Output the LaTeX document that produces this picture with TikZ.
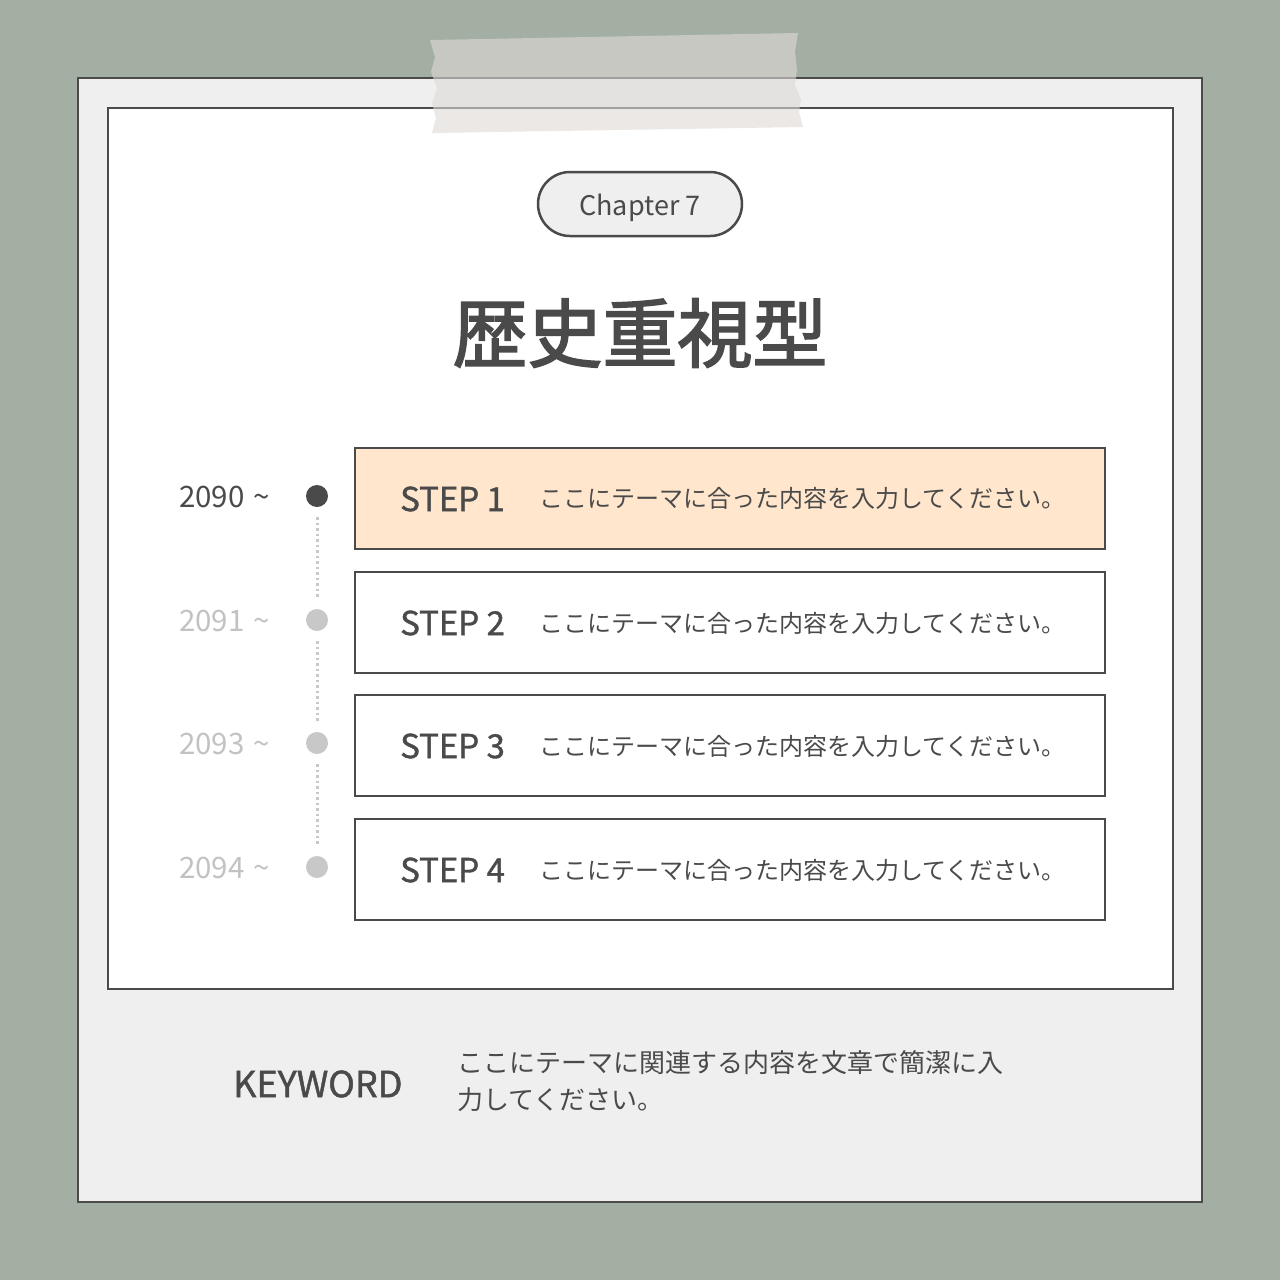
\documentclass[tikz,border=0pt]{standalone}
\usepackage{fontspec}
\setmainfont{Noto Sans CJK JP}
\newfontfamily\jp{Noto Sans CJK JP}
\newfontfamily\jpmed{Noto Sans CJK JP}[FakeBold=1.2]
\newfontfamily\jptitle{Noto Sans CJK JP}[FakeBold=2.2]
\usetikzlibrary{shapes.misc}
\definecolor{bggreen}{HTML}{A2AFA2}
\definecolor{cardgray}{HTML}{EFEFEF}
\definecolor{edge}{HTML}{4A4A4A}
\definecolor{txt}{HTML}{4A4A4A}
\definecolor{peach}{HTML}{FFE6CC}
\definecolor{lightdot}{HTML}{C8C8C8}
\definecolor{lighttxt}{HTML}{C2C2C2}
\definecolor{tape}{HTML}{DEDAD6}
\definecolor{pill}{HTML}{F0EFF0}
\tikzset{
  stepbox/.style={draw=edge, line width=2pt, minimum width=750pt, minimum height=101pt, inner sep=0pt, anchor=north west},
  steplabel/.style={anchor=west, text=txt, font=\jpmed\fontsize{33}{36}\selectfont, inner sep=0pt},
  desc/.style={anchor=west, text=txt, font=\jp\fontsize{24}{26}\selectfont, inner sep=0pt},
  year/.style={anchor=west, font=\fontsize{29.5}{32}\selectfont, inner sep=0pt},
  tdot/.style={circle, minimum size=22pt, inner sep=0pt},
  dotline/.style={lightdot, line width=3pt, dash pattern=on 2.5pt off 3pt, shorten <=10pt, shorten >=10pt}
}
\begin{document}
\begin{tikzpicture}[x=1pt,y=-1pt]
\useasboundingbox (0,0) rectangle (1280,1280);
\fill[bggreen] (0,0) rectangle (1280,1280);
% outer card
\draw[edge, fill=cardgray, line width=2pt] (78,78) rectangle (1202,1202);
% inner panel
\draw[edge, fill=white, line width=2pt] (108,108) rectangle (1173,989);
% tape
\fill[tape, opacity=0.6] (430,40) -- (798,33) -- (795,52) -- (797,70) -- (795,85) -- (801,100) -- (799,112) -- (803,127)
  -- (432,133) -- (436,118) -- (432,103) -- (437,88) -- (431,72) -- (435,57) -- cycle;
% chapter pill
\node[draw=edge, line width=2.5pt, fill=pill, rounded rectangle, minimum width=204pt, minimum height=64pt, inner sep=0pt] (chap) at (640,204) {};
\node[text=txt, font=\fontsize{27}{30}\selectfont, inner sep=0pt] (chaptxt) at (640,208) {Chapter 7};
% title
\node[text=txt, font=\jptitle\fontsize{75}{80}\selectfont, inner sep=0pt] (title) at (640,333) {歴史重視型};
% step boxes
\node[stepbox, fill=peach] (s1) at (354,447) {};
\node[stepbox, fill=white] (s2) at (354,571) {};
\node[stepbox, fill=white] (s3) at (354,694) {};
\node[stepbox, fill=white] (s4) at (354,818) {};
\node[steplabel] (l1) at (400,499) {STEP 1};
\node[steplabel] (l2) at (400,623) {STEP 2};
\node[steplabel] (l3) at (400,746) {STEP 3};
\node[steplabel] (l4) at (400,870) {STEP 4};
\node[desc] (t1) at (539,498) {ここにテーマに合った内容を入力してください。};
\node[desc] (t2) at (539,623) {ここにテーマに合った内容を入力してください。};
\node[desc] (t3) at (539,746) {ここにテーマに合った内容を入力してください。};
\node[desc] (t4) at (539,870) {ここにテーマに合った内容を入力してください。};
% timeline
\node[tdot, fill=edge] (d1) at (317,496) {};
\node[tdot, fill=lightdot] (d2) at (317,620) {};
\node[tdot, fill=lightdot] (d3) at (317,743) {};
\node[tdot, fill=lightdot] (d4) at (317,867) {};
\draw[dotline] (d1) -- (d2);
\draw[dotline] (d2) -- (d3);
\draw[dotline] (d3) -- (d4);
\node[year, text=txt] (y1) at (179,497) {2090\hspace{9pt}\textasciitilde};
\node[year, text=lighttxt] (y2) at (179,621) {2091\hspace{9pt}\textasciitilde};
\node[year, text=lighttxt] (y3) at (179,744) {2093\hspace{9pt}\textasciitilde};
\node[year, text=lighttxt] (y4) at (179,868) {2094\hspace{9pt}\textasciitilde};
% keyword
\node[anchor=west, text=txt, font=\jpmed\fontsize{36}{40}\selectfont, inner sep=0pt] (kw) at (233,1084) {KEYWORD};
\node[anchor=north west, align=left, text=txt, font=\jp\fontsize{26}{37.5}\selectfont, inner sep=0pt] (kd) at (457,1050)
  {ここにテーマに関連する内容を文章で簡潔に入\\力してください。};
\end{tikzpicture}
\end{document}
